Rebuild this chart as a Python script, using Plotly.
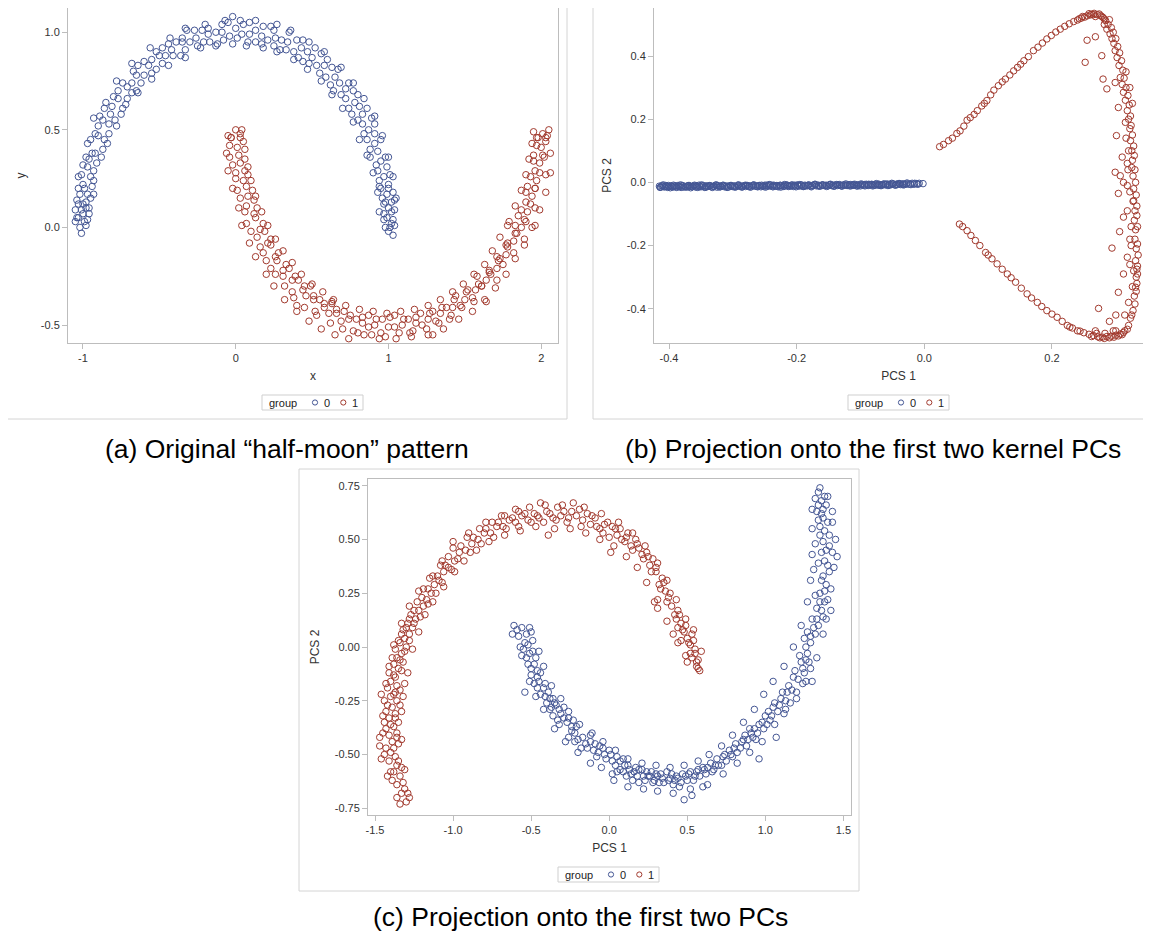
import plotly.graph_objects as go

# The page body adds an 8px margin, so the figure is sized to the window minus it
OFF = 8
W, H = 1151 - OFF, 938 - OFF
BLUE = "#445694"
RED = "#A23A2E"
FRAME = "#BDBDBD"
OUTER = "#D4D4D4"
TXT = "#333333"
FONT = "Liberation Sans, Arial, sans-serif"

# ---------------- data: panel (a) original half-moons ----------------
A_G0 = [(-1.03,0.05),(-0.98,0.01),(-1.01,-0.03),(-1.05,0.09),(-0.96,0.07),(-1.00,0.12),
(-1.02,0.17),(-0.95,0.15),(-0.99,0.20),(-1.01,0.27),(-0.93,0.24),(-0.97,0.31),
(-0.98,0.36),(-0.91,0.33),(-0.94,0.38),(-0.95,0.45),(-0.87,0.40),(-0.90,0.47),
(-0.90,0.52),(-0.83,0.48),(-0.87,0.55),(-0.86,0.61),(-0.79,0.55),(-0.82,0.58),
(-0.80,0.67),(-0.74,0.61),(-0.77,0.66),(-0.74,0.74),(-0.68,0.69),(-0.71,0.72),
(-0.67,0.80),(-0.62,0.74),(-0.65,0.78),(-0.60,0.85),(-0.55,0.79),(-0.57,0.83),
(-0.52,0.90),(-0.48,0.84),(-0.50,0.88),(-0.44,0.94),(-0.41,0.88),(-0.42,0.91),
(-0.35,0.97),(-0.33,0.91),(-0.35,0.95),(-0.27,1.01),(-0.25,0.93),(-0.26,0.97),
(-0.18,1.02),(-0.17,0.95),(-0.18,0.99),(-0.09,1.04),(-0.08,0.96),(-0.09,1.00),
(-0.02,1.08),(0.01,0.97),(0.00,1.02),(0.09,1.05),(0.08,0.95),(0.09,0.99),
(0.18,1.03),(0.17,0.94),(0.17,0.98),(0.27,1.04),(0.25,0.93),(0.26,0.97),
(0.35,1.00),(0.33,0.91),(0.34,0.95),(0.44,0.96),(0.41,0.87),(0.43,0.92),
(0.52,0.92),(0.48,0.84),(0.50,0.87),(0.60,0.86),(0.55,0.79),(0.58,0.83),
(0.67,0.81),(0.62,0.73),(0.65,0.77),(0.74,0.74),(0.69,0.68),(0.72,0.71),
(0.80,0.68),(0.74,0.61),(0.78,0.64),(0.86,0.61),(0.80,0.55),(0.83,0.58),
(0.91,0.53),(0.84,0.48),(0.87,0.50),(0.95,0.45),(0.88,0.40),(0.91,0.43),
(0.98,0.36),(0.92,0.32),(0.95,0.34),(1.01,0.27),(0.94,0.24),(0.97,0.26),
(1.03,0.18),(0.96,0.15),(0.99,0.17),(1.04,0.09),(0.97,0.07),(1.00,0.10),
(1.02,0.02),(0.98,0.00),(1.03,-0.04),
(-1.04,0.05),(-0.97,0.04),(-0.98,0.13),(-1.04,0.14),(-0.94,0.21),(-1.00,0.22),
(-1.00,0.32),(-0.93,0.29),(-0.92,0.38),(-0.88,0.36),(-0.92,0.48),(-0.86,0.45),
(-0.83,0.53),(-0.89,0.57),(-0.81,0.62),(-0.75,0.58),(-0.71,0.66),(-0.77,0.70),
(-0.68,0.74),(-0.64,0.69),(-0.64,0.83),(-0.60,0.78),(-0.52,0.81),(-0.55,0.86),
(-0.48,0.92),(-0.46,0.88),(-0.36,0.88),(-0.39,0.95),(-0.30,0.95),(-0.32,1.01),
(-0.21,0.95),(-0.22,1.01),(-0.13,1.00),(-0.12,0.94),(-0.05,1.05),(-0.04,0.98),
(0.04,0.99),(0.05,1.04),(0.13,1.01),(0.13,0.95),(0.21,0.96),(0.23,1.03),
(0.30,0.96),(0.29,0.91),(0.40,0.96),(0.38,0.90),(0.44,0.85),(0.47,0.90),
(0.56,0.89),(0.53,0.83),(0.59,0.77),(0.63,0.82),(0.68,0.74),(0.64,0.70),
(0.77,0.70),(0.72,0.66),(0.76,0.58),(0.81,0.62),(0.89,0.56),(0.83,0.53),
(0.86,0.45),(0.91,0.48),(0.93,0.39),(0.88,0.36),(0.99,0.31),(0.93,0.29),
(0.94,0.21),(1.00,0.22),(1.04,0.14),(0.98,0.13),(0.97,0.04),(1.03,0.04),
(-1.02,0.00),(-0.99,0.03),(-1.00,0.07),(-0.98,0.10),(-1.03,0.12),(1.01,0.00),
(0.99,0.05),(1.02,0.08),(0.95,0.20),(1.00,0.20),
(-1.05,0.03),(-0.96,0.10),(-1.01,0.09),(-0.97,0.17),(-1.03,0.20),(-0.95,0.26),
(-0.93,0.17),(-1.03,0.26),(-0.96,0.35),(-0.97,0.43),(-0.84,0.43),(-0.93,0.56),
(-0.78,0.52),(-0.85,0.64),(-0.72,0.63),(-0.78,0.75),(-0.65,0.70),(-0.68,0.84),
(-0.55,0.76),(-0.56,0.92),(-0.44,0.83),(-0.43,0.97),(-0.33,0.87),(-0.33,1.02),
(-0.23,0.92),(-0.20,1.04),(-0.13,0.93),(-0.07,1.06),(-0.02,0.94),(0.03,1.06),
(0.07,0.93),(0.13,1.06),(0.18,0.92),(0.25,1.01),(0.27,0.90),(0.36,1.01),
(0.38,0.86),(0.48,0.95),(0.47,0.81),(0.58,0.90),(0.56,0.75),(0.69,0.82),
(0.63,0.68),(0.77,0.74),(0.70,0.61),(0.84,0.66),(0.77,0.54),(0.91,0.57),
(0.81,0.45),(0.96,0.47),(0.86,0.37),(1.00,0.36),(0.90,0.28),(1.03,0.26),
(0.93,0.18),(1.05,0.15),(0.94,0.08),(1.00,-0.02),(1.04,0.01),(0.97,0.12),(1.02,0.13)]

A_G1 = [(0.00,0.50),(-0.03,0.46),(0.03,0.48),(0.01,0.41),(-0.04,0.42),(0.05,0.44),
(0.03,0.33),(-0.02,0.32),(0.06,0.35),(0.05,0.24),(0.00,0.25),(0.08,0.27),
(0.08,0.16),(0.03,0.15),(0.11,0.19),(0.12,0.07),(0.06,0.08),(0.14,0.10),
(0.16,-0.01),(0.10,-0.02),(0.18,0.02),(0.21,-0.08),(0.16,-0.10),(0.23,-0.06),
(0.26,-0.15),(0.20,-0.17),(0.28,-0.13),(0.31,-0.22),(0.26,-0.24),(0.33,-0.19),
(0.37,-0.27),(0.32,-0.30),(0.39,-0.25),(0.44,-0.32),(0.38,-0.36),(0.45,-0.30),
(0.51,-0.37),(0.45,-0.41),(0.51,-0.35),(0.58,-0.41),(0.53,-0.45),(0.58,-0.39),
(0.66,-0.44),(0.62,-0.49),(0.66,-0.42),(0.74,-0.47),(0.70,-0.52),(0.75,-0.45),
(0.83,-0.49),(0.80,-0.54),(0.83,-0.46),(0.91,-0.50),(0.89,-0.55),(0.92,-0.47),
(1.00,-0.51),(0.98,-0.56),(1.01,-0.46),(1.09,-0.50),(1.07,-0.54),(1.10,-0.47),
(1.18,-0.49),(1.16,-0.53),(1.18,-0.46),(1.26,-0.47),(1.25,-0.52),(1.27,-0.44),
(1.34,-0.44),(1.33,-0.49),(1.35,-0.41),(1.42,-0.41),(1.41,-0.45),(1.43,-0.37),
(1.50,-0.37),(1.48,-0.41),(1.51,-0.33),(1.57,-0.32),(1.55,-0.36),(1.59,-0.29),
(1.64,-0.27),(1.61,-0.30),(1.66,-0.23),(1.71,-0.21),(1.67,-0.24),(1.72,-0.17),
(1.77,-0.14),(1.73,-0.16),(1.78,-0.10),(1.82,-0.07),(1.78,-0.08),(1.84,-0.03),
(1.87,0.00),(1.83,0.01),(1.89,0.04),(1.91,0.08),(1.87,0.09),(1.93,0.12),
(1.94,0.16),(1.90,0.18),(1.96,0.20),(1.97,0.24),(1.93,0.26),(1.99,0.28),
(1.99,0.33),(1.95,0.34),(2.02,0.36),(2.00,0.41),(1.97,0.42),(2.03,0.44),
(2.01,0.48),(1.98,0.46),(2.04,0.47),(0.40,-0.40),(0.63,-0.38),(1.29,-0.55),
(1.64,-0.38),(1.78,0.01),(1.96,0.01),
(-0.03,0.46),(0.03,0.46),(0.02,0.37),(-0.04,0.36),(0.00,0.28),(0.06,0.29),
(0.07,0.21),(0.01,0.19),(0.07,0.11),(0.12,0.14),(0.07,0.02),(0.13,0.05),
(0.19,-0.02),(0.14,-0.05),(0.18,-0.13),(0.23,-0.09),(0.27,-0.17),(0.23,-0.21),
(0.31,-0.25),(0.35,-0.21),(0.41,-0.27),(0.37,-0.33),(0.46,-0.35),(0.49,-0.30),
(0.52,-0.43),(0.55,-0.37),(0.63,-0.39),(0.61,-0.44),(0.69,-0.48),(0.71,-0.43),
(0.79,-0.47),(0.77,-0.53),(0.87,-0.51),(0.87,-0.45),(0.96,-0.47),(0.95,-0.54),
(1.04,-0.51),(1.04,-0.45),(1.14,-0.54),(1.13,-0.47),(1.21,-0.44),(1.22,-0.50),
(1.31,-0.48),(1.29,-0.43),(1.38,-0.41),(1.40,-0.47),(1.47,-0.40),(1.44,-0.35),
(1.52,-0.32),(1.56,-0.38),(1.61,-0.30),(1.58,-0.25),(1.71,-0.27),(1.66,-0.22),
(1.71,-0.15),(1.75,-0.19),(1.82,-0.13),(1.77,-0.09),(1.83,-0.03),(1.89,-0.06),
(1.90,0.03),(1.85,0.06),(1.90,0.13),(1.96,0.10),(1.96,0.20),(1.91,0.21),
(2.03,0.27),(1.96,0.29),(1.95,0.37),(2.01,0.37),(2.03,0.46),(1.97,0.46),
(0.04,0.50),(-0.05,0.47),(0.06,0.40),(-0.06,0.38),(0.08,0.31),(-0.05,0.29),
(0.10,0.24),(-0.02,0.20),(0.13,0.16),(0.02,0.10),(0.17,0.08),(0.04,0.01),
(0.21,0.01),(0.09,-0.08),(0.26,-0.06),(0.13,-0.15),(0.31,-0.12),(0.20,-0.24),
(0.37,-0.18),(0.25,-0.30),(0.43,-0.24),(0.32,-0.37),(0.50,-0.29),(0.40,-0.43),
(0.57,-0.33),(0.48,-0.48),(0.64,-0.37),(0.56,-0.52),(0.72,-0.40),(0.65,-0.55),
(0.81,-0.42),(0.74,-0.57),(0.90,-0.43),(0.84,-0.55),(0.99,-0.44),(0.94,-0.57),
(1.08,-0.43),(1.05,-0.57),(1.17,-0.42),(1.15,-0.56),(1.26,-0.40),(1.26,-0.55),
(1.34,-0.37),(1.36,-0.52),(1.42,-0.33),(1.46,-0.47),(1.49,-0.29),(1.55,-0.43),
(1.56,-0.24),(1.63,-0.37),(1.63,-0.19),(1.70,-0.31),(1.68,-0.12),(1.77,-0.24),
(1.73,-0.05),(1.83,-0.16),(1.79,0.03),(1.89,-0.09),(1.83,0.11),(1.94,0.00),
(1.87,0.19),(1.99,0.09),(1.90,0.27),(2.03,0.18),(1.92,0.35),(2.06,0.28),
(1.94,0.43),(2.06,0.38),(1.95,0.49),(2.05,0.50)]

# ---------------- data: panel (b) kernel PCs ----------------
B_G0_X = [-0.415,-0.413,-0.410,-0.408,-0.405,-0.402,-0.400,-0.397,-0.394,-0.392,
-0.389,-0.386,-0.383,-0.381,-0.378,-0.375,-0.372,-0.370,-0.367,-0.364,
-0.361,-0.358,-0.356,-0.353,-0.350,-0.347,-0.344,-0.342,-0.339,-0.336,
-0.333,-0.330,-0.327,-0.325,-0.322,-0.319,-0.316,-0.313,-0.310,-0.307,
-0.304,-0.301,-0.298,-0.295,-0.292,-0.289,-0.286,-0.283,-0.280,-0.277,
-0.274,-0.271,-0.268,-0.265,-0.262,-0.259,-0.256,-0.253,-0.250,-0.247,
-0.244,-0.241,-0.238,-0.235,-0.232,-0.229,-0.226,-0.223,-0.220,-0.217,
-0.214,-0.211,-0.208,-0.205,-0.202,-0.199,-0.196,-0.193,-0.190,-0.187,
-0.184,-0.181,-0.178,-0.175,-0.172,-0.169,-0.166,-0.163,-0.160,-0.157,
-0.154,-0.151,-0.148,-0.145,-0.142,-0.139,-0.136,-0.133,-0.130,-0.127,
-0.124,-0.121,-0.118,-0.115,-0.112,-0.109,-0.106,-0.103,-0.100,-0.097,
-0.094,-0.091,-0.088,-0.085,-0.082,-0.079,-0.076,-0.073,-0.070,-0.067,
-0.064,-0.061,-0.058,-0.055,-0.052,-0.049,-0.046,-0.043,-0.040,-0.037,
-0.034,-0.031,-0.028,-0.025,-0.022,-0.019,-0.016,-0.012,-0.008,-0.002]
B_G0_Y = [-0.012,-0.015,-0.011,-0.014,-0.010,-0.016,-0.013,-0.011,-0.015,-0.012,
-0.014,-0.010,-0.013,-0.016,-0.011,-0.013,-0.015,-0.010,-0.012,-0.014,
-0.011,-0.015,-0.012,-0.009,-0.014,-0.012,-0.016,-0.011,-0.013,-0.010,
-0.014,-0.012,-0.009,-0.015,-0.011,-0.013,-0.010,-0.014,-0.012,-0.015,
-0.010,-0.013,-0.011,-0.014,-0.009,-0.012,-0.015,-0.011,-0.013,-0.010,
-0.012,-0.014,-0.009,-0.011,-0.013,-0.010,-0.014,-0.012,-0.009,-0.013,
-0.011,-0.008,-0.013,-0.010,-0.012,-0.014,-0.009,-0.011,-0.013,-0.008,
-0.010,-0.012,-0.009,-0.013,-0.011,-0.008,-0.012,-0.010,-0.013,-0.009,
-0.011,-0.008,-0.012,-0.010,-0.007,-0.011,-0.009,-0.012,-0.008,-0.010,
-0.009,-0.011,-0.007,-0.010,-0.012,-0.008,-0.010,-0.007,-0.011,-0.009,
-0.008,-0.010,-0.007,-0.011,-0.009,-0.006,-0.010,-0.008,-0.011,-0.007,
-0.009,-0.006,-0.010,-0.008,-0.007,-0.010,-0.006,-0.009,-0.007,-0.010,
-0.006,-0.008,-0.005,-0.009,-0.007,-0.005,-0.008,-0.006,-0.004,-0.007,
-0.005,-0.007,-0.004,-0.006,-0.005,-0.003,-0.006,-0.004,-0.003,-0.004]
B_G0_EXTRA = [(-0.414,-0.016),(-0.409,-0.008),(-0.404,-0.013),(-0.398,-0.017),(-0.393,-0.009),
(-0.388,-0.016),(-0.382,-0.008),(-0.377,-0.015),(-0.371,-0.012),(-0.366,-0.017),
(-0.360,-0.009),(-0.355,-0.016),(-0.349,-0.008),(-0.343,-0.015),(-0.338,-0.011),
(-0.332,-0.016),(-0.326,-0.008),(-0.321,-0.015),(-0.315,-0.009),(-0.309,-0.016),
(-0.303,-0.012),(-0.297,-0.015),(-0.291,-0.008),(-0.285,-0.014),(-0.279,-0.010),
(-0.273,-0.015),(-0.267,-0.008),(-0.261,-0.014),(-0.255,-0.009),(-0.249,-0.015),
(-0.243,-0.007),(-0.237,-0.014),(-0.231,-0.010),(-0.225,-0.015),(-0.219,-0.007),
(-0.213,-0.013),(-0.207,-0.008),(-0.201,-0.014),(-0.195,-0.007),(-0.189,-0.013),
(-0.183,-0.010),(-0.177,-0.014),(-0.171,-0.006),(-0.165,-0.012),(-0.159,-0.008),
(-0.153,-0.013),(-0.147,-0.006),(-0.141,-0.012),(-0.135,-0.008),(-0.129,-0.012),
(-0.123,-0.005),(-0.117,-0.011),(-0.111,-0.007),(-0.105,-0.012),(-0.099,-0.005),
(-0.093,-0.011),(-0.087,-0.006),(-0.081,-0.011),(-0.075,-0.004),(-0.069,-0.010),
(-0.063,-0.005),(-0.057,-0.010),(-0.051,-0.003),(-0.045,-0.009),(-0.039,-0.004),
(-0.033,-0.008),(-0.027,-0.002),(-0.021,-0.007),(-0.015,-0.003),(-0.010,-0.006),
(-0.4115,-0.011),(-0.4065,-0.014),(-0.4010,-0.010),(-0.3955,-0.013),(-0.3905,-0.011),
(-0.3850,-0.013),(-0.3795,-0.010),(-0.3740,-0.014),(-0.3685,-0.010),(-0.3630,-0.013),
(-0.3575,-0.011),(-0.3520,-0.013),(-0.3465,-0.010),(-0.3410,-0.014),(-0.3355,-0.011),
(-0.3300,-0.013),(-0.3245,-0.010),(-0.3190,-0.013),(-0.3135,-0.011),(-0.3080,-0.012),
(-0.3025,-0.010),(-0.2970,-0.013),(-0.2915,-0.011),(-0.2860,-0.012),(-0.2805,-0.009),
(-0.2750,-0.012),(-0.2695,-0.010),(-0.2640,-0.012),(-0.2585,-0.010),(-0.2530,-0.012),
(-0.2475,-0.009),(-0.2420,-0.011),(-0.2365,-0.009),(-0.2310,-0.012),(-0.2255,-0.010),
(-0.2200,-0.011),(-0.2145,-0.009),(-0.2090,-0.011),(-0.2035,-0.009),(-0.1980,-0.010),
(-0.1925,-0.008),(-0.1870,-0.011),(-0.1815,-0.009),(-0.1760,-0.010),(-0.1705,-0.008),
(-0.1650,-0.010),(-0.1595,-0.009),(-0.1540,-0.010),(-0.1485,-0.008),(-0.1430,-0.009),
(-0.1375,-0.007),(-0.1320,-0.009),(-0.1265,-0.008),(-0.1210,-0.009),(-0.1155,-0.007),
(-0.1100,-0.009),(-0.1045,-0.008),(-0.0990,-0.008),(-0.0935,-0.007),(-0.0880,-0.008),
(-0.0825,-0.006),(-0.0770,-0.008),(-0.0715,-0.006),(-0.0660,-0.007),(-0.0605,-0.006),
(-0.0550,-0.007),(-0.0495,-0.005),(-0.0440,-0.006),(-0.0385,-0.005),(-0.0330,-0.005)]

B_G1 = [(0.024,0.113),(0.030,0.120),(0.038,0.132),(0.044,0.140),(0.051,0.155),(0.056,0.163),
(0.062,0.178),(0.067,0.197),(0.072,0.205),(0.078,0.215),(0.083,0.227),(0.090,0.242),
(0.094,0.250),(0.098,0.259),(0.104,0.277),(0.109,0.292),(0.116,0.306),(0.122,0.318),
(0.127,0.327),(0.134,0.340),(0.140,0.353),(0.146,0.364),(0.151,0.374),(0.156,0.385),
(0.163,0.398),(0.171,0.417),(0.178,0.428),(0.185,0.441),(0.192,0.454),(0.199,0.465),
(0.206,0.476),(0.213,0.485),(0.220,0.494),(0.227,0.502),(0.234,0.509),(0.240,0.514),
(0.246,0.520),(0.251,0.523),(0.255,0.527),(0.260,0.530),(0.265,0.531),(0.271,0.531),
(0.276,0.528),(0.280,0.522),(0.284,0.512),(0.268,0.525),(0.262,0.532),
(0.288,0.500),(0.291,0.470),(0.294,0.455),(0.297,0.440),(0.299,0.417),(0.302,0.395),
(0.305,0.370),(0.307,0.332),(0.310,0.310),(0.312,0.285),(0.315,0.260),(0.318,0.227),
(0.320,0.200),(0.322,0.170),(0.323,0.132),(0.325,0.100),(0.326,0.070),(0.325,0.047),
(0.327,0.020),(0.328,-0.020),(0.328,-0.058),(0.330,-0.090),(0.329,-0.120),(0.331,-0.150),
(0.330,-0.180),(0.332,-0.210),(0.331,-0.248),(0.333,-0.275),(0.332,-0.300),(0.331,-0.332),
(0.329,-0.360),(0.327,-0.406),(0.323,-0.430),(0.320,-0.453),(0.314,-0.470),(0.307,-0.480),
(0.252,0.380),(0.255,0.450),(0.268,0.461),(0.278,0.401),(0.280,0.327),(0.286,0.296),
(0.299,0.316),(0.304,0.237),(0.301,0.148),(0.299,0.032),(0.307,0.021),(0.304,-0.035),
(0.318,-0.010),(0.310,0.080),(0.315,0.190),(0.312,-0.110),(0.294,-0.208),(0.306,-0.156),
(0.312,-0.290),(0.318,-0.237),(0.304,-0.348),(0.273,-0.399),(0.320,-0.380),(0.316,0.350),
(0.322,-0.260),(0.318,0.060),(0.290,-0.440),(0.300,-0.420),
(0.055,-0.132),(0.060,-0.140),(0.067,-0.153),(0.073,-0.168),(0.080,-0.184),(0.087,-0.200),
(0.096,-0.222),(0.100,-0.230),(0.106,-0.242),(0.114,-0.258),(0.122,-0.275),(0.130,-0.290),
(0.136,-0.302),(0.143,-0.316),(0.152,-0.335),(0.161,-0.353),(0.168,-0.366),(0.177,-0.380),
(0.184,-0.393),(0.192,-0.406),(0.200,-0.417),(0.208,-0.427),(0.216,-0.440),(0.224,-0.453),
(0.232,-0.461),(0.244,-0.471),(0.250,-0.476),(0.258,-0.481),(0.265,-0.485),(0.272,-0.489),
(0.279,-0.490),(0.286,-0.488),(0.293,-0.487),(0.300,-0.484),(0.283,-0.478),(0.270,-0.478),
(0.296,-0.470),
(0.290,0.515),(0.293,0.490),(0.296,0.475),(0.300,0.455),(0.303,0.430),(0.306,0.410),
(0.309,0.385),(0.311,0.355),(0.313,0.330),(0.316,0.300),(0.319,0.275),(0.321,0.245),
(0.323,0.210),(0.324,0.180),(0.326,0.150),(0.328,0.115),(0.329,0.085),(0.330,0.040),
(0.331,0.000),(0.332,-0.040),(0.333,-0.075),(0.333,-0.105),(0.334,-0.140),(0.334,-0.195),
(0.335,-0.230),(0.334,-0.265),(0.334,-0.290),(0.333,-0.320),(0.332,-0.345),(0.330,-0.385),
(0.325,-0.420),(0.318,-0.465),(0.312,-0.475),(0.320,0.100),(0.316,0.140),(0.322,-0.030),
(0.318,-0.090),(0.324,-0.200),(0.326,-0.330),(0.314,-0.420),(0.322,-0.180),(0.326,0.250),
(0.322,0.300),(0.319,0.040),(0.312,0.000),(0.327,-0.060),(0.328,-0.280),(0.324,-0.140),
(0.258,0.534),(0.266,0.535),(0.274,0.533),(0.278,0.525),(0.282,0.517),(0.248,0.525),
(0.243,0.518),(0.282,0.500),(0.286,0.485),
(0.262,-0.488),(0.275,-0.492),(0.282,-0.494),(0.290,-0.492),(0.297,-0.490),(0.304,-0.486),
(0.310,-0.482),(0.240,-0.470),(0.228,-0.458),(0.268,-0.470),(0.300,-0.470)]

# ---------------- data: panel (c) linear PCs ----------------
C_G1 = [(-1.34,-0.73),(-1.28,-0.70),(-1.33,-0.68),(-1.31,-0.66),(-1.36,-0.64),(-1.39,-0.62),
(-1.34,-0.60),(-1.38,-0.58),(-1.31,-0.57),(-1.36,-0.55),(-1.41,-0.53),(-1.46,-0.52),
(-1.37,-0.51),(-1.40,-0.49),(-1.43,-0.47),(-1.35,-0.45),(-1.39,-0.44),(-1.47,-0.42),
(-1.41,-0.41),(-1.36,-0.40),(-1.43,-0.38),(-1.38,-0.37),(-1.35,-0.35),(-1.41,-0.33),
(-1.37,-0.31),(-1.43,-0.30),(-1.39,-0.28),(-1.34,-0.27),(-1.44,-0.25),(-1.40,-0.23),
(-1.37,-0.21),(-1.42,-0.19),(-1.36,-0.18),(-1.40,-0.16),(-1.31,-0.17),(-1.37,-0.14),
(-1.41,-0.12),(-1.35,-0.10),(-1.38,-0.08),(-1.32,-0.07),(-1.36,-0.05),(-1.33,-0.03),
(-1.37,-0.01),(-1.30,0.00),(-1.34,0.02),(-1.31,0.04),(-1.28,0.06),(-1.32,0.08),
(-1.26,0.09),(-1.29,0.11),(-1.24,0.13),(-1.27,0.15),(-1.22,0.17),(-1.19,0.19),
(-1.23,0.21),(-1.17,0.22),(-1.14,0.25),(-1.19,0.27),(-1.12,0.29),(-1.09,0.31),
(-1.13,0.33),(-1.06,0.35),(-1.03,0.37),(-1.07,0.40),(-0.99,0.40),(-0.96,0.44),
(-1.00,0.46),(-0.92,0.45),(-0.88,0.48),(-0.91,0.51),(-0.84,0.50),(-0.80,0.53),
(-0.83,0.55),(-0.76,0.53),(-0.72,0.56),(-0.75,0.58),(-0.68,0.56),(-0.64,0.59),
(-0.67,0.61),(-0.60,0.58),(-0.56,0.61),(-0.58,0.63),(-0.52,0.59),(-0.48,0.62),
(-0.44,0.67),(-0.45,0.60),(-0.40,0.63),(-0.39,0.52),(-0.36,0.60),(-0.33,0.65),
(-0.31,0.61),(-0.27,0.58),(-0.24,0.63),(-0.21,0.61),(-0.23,0.67),(-0.17,0.59),
(-0.14,0.62),(-0.12,0.57),(-0.09,0.60),(-0.06,0.55),(-0.04,0.53),(-0.01,0.58),
(0.02,0.56),(0.01,0.44),(0.05,0.52),(0.07,0.55),(0.10,0.49),(0.12,0.53),
(0.14,0.47),(0.17,0.50),(0.19,0.46),(0.21,0.43),(0.24,0.44),(0.26,0.38),
(0.28,0.41),(0.30,0.35),(0.32,0.29),(0.34,0.32),(0.31,0.22),(0.36,0.26),
(0.38,0.23),(0.40,0.19),(0.42,0.15),(0.44,0.17),(0.41,0.06),(0.46,0.11),
(0.48,0.07),(0.50,0.04),(0.52,0.01),(0.54,0.03),(0.50,-0.07),(0.55,-0.03),
(0.57,-0.06),(0.56,-0.09),(0.58,-0.11),(0.53,-0.05),
(-1.30,-0.72),(-1.36,-0.70),(-1.32,-0.63),(-1.40,-0.58),(-1.35,-0.53),(-1.44,-0.50),
(-1.38,-0.47),(-1.33,-0.43),(-1.45,-0.40),(-1.40,-0.36),(-1.37,-0.33),(-1.45,-0.32),
(-1.42,-0.27),(-1.36,-0.25),(-1.38,-0.22),(-1.34,-0.20),(-1.43,-0.17),(-1.38,-0.13),
(-1.33,-0.11),(-1.39,-0.05),(-1.34,-0.06),(-1.31,-0.02),(-1.35,0.03),(-1.33,0.06),
(-1.28,0.03),(-1.30,0.09),(-1.25,0.11),(-1.28,0.13),(-1.21,0.14),(-1.25,0.17),
(-1.20,0.23),(-1.16,0.20),(-1.16,0.27),(-1.11,0.25),(-1.10,0.33),(-1.07,0.30),
(-1.05,0.38),(-1.01,0.36),(-1.03,0.42),(-0.97,0.41),(-0.95,0.47),(-0.89,0.44),
(-0.87,0.51),(-0.82,0.48),(-0.79,0.55),(-0.74,0.51),(-0.71,0.58),(-0.66,0.55),
(-0.62,0.60),(-0.58,0.56),(-0.54,0.62),(-0.50,0.58),(-0.46,0.61),(-0.42,0.58),
(-0.38,0.62),(-0.34,0.59),(-0.29,0.63),(-0.26,0.60),(-0.19,0.64),(-0.18,0.56),
(-0.11,0.61),(-0.08,0.56),(-0.03,0.57),(0.00,0.51),(0.04,0.55),(0.08,0.50),
(0.11,0.51),(0.15,0.45),(0.18,0.48),(0.22,0.41),(0.25,0.42),(0.27,0.35),
(0.30,0.37),(0.33,0.27),(0.35,0.30),(0.37,0.21),(0.39,0.25),(0.43,0.13),
(0.45,0.15),(0.47,0.08),(0.49,0.10),(0.51,0.02),(0.53,0.06),(0.55,-0.01),
(0.52,-0.03),(0.56,-0.07),(0.57,-0.10),(0.46,0.03),(0.44,0.09),(0.29,0.21),
(-1.29,-0.68),(-1.42,-0.60),(-1.33,-0.56),(-1.47,-0.46),(-1.36,-0.42),(-1.44,-0.35),
(-1.33,-0.30),(-1.46,-0.22),(-1.32,-0.23),(-1.41,-0.09),(-1.29,-0.12),(-1.38,0.01),
(-1.26,-0.01),(-1.33,0.11),(-1.22,0.07),(-1.28,0.19),(-1.18,0.15),(-1.22,0.26),
(-1.13,0.21),(-1.15,0.32),(-1.06,0.28),(-1.08,0.38),(-0.99,0.35),(-1.00,0.49),
(-0.93,0.40),(-0.90,0.53),(-0.85,0.45),(-0.79,0.58),(-0.77,0.49),(-0.69,0.61),
(-0.67,0.52),(-0.60,0.64),(-0.57,0.54),(-0.51,0.65),(-0.47,0.56),(-0.41,0.66),
(-0.35,0.55),(-0.30,0.66),(-0.25,0.55),(-0.16,0.65),(-0.15,0.53),(-0.05,0.62),
(-0.06,0.50),(0.06,0.58),(0.03,0.47),(0.15,0.53),(0.11,0.42),(0.23,0.47),
(0.18,0.37),(0.31,0.39),(0.24,0.30),(0.37,0.31),(0.31,0.18),(0.43,0.22),
(0.37,0.12),(0.49,0.13),(0.44,0.02),(0.54,0.08),(0.49,-0.04),(0.59,-0.02)]

C_G0 = [(-0.61,0.10),(-0.56,0.09),(-0.50,0.07),(-0.58,0.05),(-0.54,0.02),(-0.49,0.03),
(-0.55,-0.01),(-0.51,-0.03),(-0.47,-0.05),(-0.52,-0.08),(-0.46,-0.11),(-0.50,-0.13),
(-0.45,-0.16),(-0.48,-0.17),(-0.54,-0.21),(-0.42,-0.19),(-0.44,-0.22),(-0.39,-0.21),
(-0.40,-0.26),(-0.36,-0.24),(-0.38,-0.29),(-0.34,-0.27),(-0.31,-0.31),(-0.36,-0.32),
(-0.29,-0.28),(-0.27,-0.35),(-0.32,-0.36),(-0.24,-0.37),(-0.26,-0.42),(-0.22,-0.40),
(-0.20,-0.43),(-0.18,-0.47),(-0.23,-0.34),(-0.15,-0.45),(-0.12,-0.41),(-0.10,-0.48),
(-0.08,-0.51),(-0.06,-0.46),(-0.03,-0.50),(0.00,-0.48),(0.02,-0.53),(0.02,-0.59),
(0.05,-0.51),(0.07,-0.53),(0.07,-0.57),(0.10,-0.55),(0.11,-0.60),(0.13,-0.57),
(0.15,-0.62),(0.17,-0.56),(0.19,-0.57),(0.19,-0.63),(0.22,-0.60),(0.24,-0.58),
(0.26,-0.60),(0.28,-0.63),(0.30,-0.59),(0.32,-0.63),(0.34,-0.61),(0.37,-0.58),
(0.39,-0.61),(0.41,-0.64),(0.43,-0.60),(0.45,-0.65),(0.47,-0.59),(0.48,-0.71),
(0.50,-0.62),(0.52,-0.66),(0.52,-0.58),(0.55,-0.60),(0.57,-0.57),(0.60,-0.56),
(0.60,-0.65),(0.62,-0.59),(0.65,-0.54),(0.67,-0.57),(0.69,-0.52),(0.72,-0.55),
(0.74,-0.50),(0.77,-0.48),(0.79,-0.51),(0.81,-0.45),(0.84,-0.47),(0.86,-0.43),
(0.88,-0.46),(0.90,-0.38),(0.92,-0.42),(0.94,-0.43),(0.96,-0.52),(0.96,-0.36),
(0.99,-0.38),(1.00,-0.32),(1.03,-0.34),(1.05,-0.28),(1.07,-0.42),(1.08,-0.30),
(1.10,-0.24),(1.12,-0.31),(1.14,-0.21),(1.16,-0.26),(1.18,-0.14),(1.20,-0.21),
(1.22,-0.04),(1.24,-0.10),(1.24,-0.17),(1.26,0.00),(1.28,-0.07),(1.27,0.07),
(1.30,-0.16),(1.30,0.13),(1.32,0.06),(1.33,0.18),(1.34,0.10),(1.35,0.25),
(1.37,0.14),(1.38,0.21),(1.40,0.22),(1.42,0.17),(1.39,0.29),(1.41,0.35),
(1.38,0.40),(1.36,0.44),(1.46,0.42),(1.41,0.47),(1.32,0.48),(1.35,0.52),
(1.35,0.56),(1.40,0.58),(1.43,0.58),(1.37,0.60),(1.33,0.63),(1.39,0.66),
(1.36,0.68),(1.32,0.69),(1.34,0.72),(1.37,0.64),(1.31,0.36),(1.36,0.31),
(1.29,0.02),(1.25,0.04),
(-0.59,0.08),(-0.53,0.06),(-0.57,0.00),(-0.52,0.01),(-0.49,-0.02),(-0.53,-0.05),
(-0.48,-0.08),(-0.50,-0.10),(-0.46,-0.14),(-0.44,-0.12),(-0.41,-0.17),(-0.46,-0.19),
(-0.41,-0.23),(-0.38,-0.24),(-0.35,-0.26),(-0.37,-0.28),(-0.32,-0.29),(-0.29,-0.33),
(-0.33,-0.34),(-0.26,-0.33),(-0.24,-0.39),(-0.21,-0.37),(-0.22,-0.44),(-0.17,-0.42),
(-0.14,-0.47),(-0.12,-0.44),(-0.09,-0.45),(-0.07,-0.49),(-0.04,-0.47),(-0.02,-0.52),
(0.01,-0.50),(0.04,-0.55),(0.05,-0.58),(0.09,-0.52),(0.09,-0.58),(0.12,-0.55),
(0.14,-0.59),(0.16,-0.58),(0.18,-0.60),(0.21,-0.57),(0.23,-0.62),(0.25,-0.60),
(0.27,-0.58),(0.29,-0.62),(0.31,-0.60),(0.33,-0.59),(0.35,-0.63),(0.38,-0.62),
(0.40,-0.59),(0.42,-0.62),(0.44,-0.61),(0.46,-0.63),(0.49,-0.60),(0.51,-0.59),
(0.54,-0.62),(0.56,-0.58),(0.58,-0.60),(0.61,-0.57),(0.63,-0.56),(0.66,-0.58),
(0.68,-0.55),(0.70,-0.55),(0.73,-0.51),(0.75,-0.53),(0.78,-0.50),(0.80,-0.47),
(0.82,-0.49),(0.85,-0.44),(0.87,-0.41),(0.89,-0.43),(0.91,-0.40),(0.93,-0.38),
(0.95,-0.40),(0.98,-0.35),(1.01,-0.36),(1.02,-0.30),(1.04,-0.32),(1.06,-0.26),
(1.09,-0.27),(1.11,-0.21),(1.13,-0.25),(1.15,-0.18),(1.17,-0.20),(1.19,-0.11),
(1.21,-0.15),(1.23,-0.07),(1.25,-0.12),(1.27,-0.03),(1.29,0.05),(1.31,0.09),
(1.33,0.13),(1.36,0.17),(1.35,0.21),(1.38,0.26),(1.37,0.33),(1.40,0.38),
(1.39,0.45),(1.37,0.49),(1.38,0.54),(1.34,0.59),(1.36,0.62),(1.38,0.70),
(1.34,0.66),(1.41,0.52),(1.43,0.44),(1.34,0.39),(1.39,0.13),(1.32,0.24),
(1.29,-0.10),(1.26,-0.06),
(-0.62,0.06),(-0.51,0.09),(-0.56,-0.04),(-0.45,-0.02),(-0.51,-0.16),(-0.42,-0.09),
(-0.47,-0.23),(-0.37,-0.18),(-0.42,-0.29),(-0.31,-0.24),(-0.35,-0.38),(-0.26,-0.30),
(-0.28,-0.44),(-0.19,-0.36),(-0.20,-0.49),(-0.11,-0.40),(-0.12,-0.54),(-0.04,-0.44),
(-0.05,-0.56),(0.04,-0.48),(0.03,-0.62),(0.12,-0.52),(0.12,-0.65),(0.21,-0.54),
(0.22,-0.66),(0.30,-0.55),(0.31,-0.67),(0.39,-0.56),(0.41,-0.68),(0.48,-0.55),
(0.53,-0.69),(0.57,-0.53),(0.63,-0.64),(0.64,-0.50),(0.73,-0.59),(0.72,-0.46),
(0.82,-0.54),(0.79,-0.41),(0.90,-0.49),(0.86,-0.35),(0.98,-0.44),(0.93,-0.29),
(1.06,-0.36),(0.99,-0.22),(1.13,-0.29),(1.05,-0.16),(1.20,-0.24),(1.12,-0.09),
(1.26,-0.16),(1.18,0.00),(1.33,-0.05),(1.23,0.10),(1.37,0.06),(1.27,0.21),
(1.42,0.27),(1.29,0.31),(1.44,0.37),(1.30,0.43),(1.45,0.50),(1.30,0.55),
(1.43,0.63),(1.30,0.64),(1.40,0.70),(1.35,0.74)]

# ticks
A_XTICKS = [-1, 0, 1, 2]
A_XTEXT = ["-1", "0", "1", "2"]
A_YTICKS = [-0.5, 0.0, 0.5, 1.0]
A_YTEXT = ["-0.5", "0.0", "0.5", "1.0"]
B_XTICKS = [-0.4, -0.2, 0.0, 0.2]
B_XTEXT = ["-0.4", "-0.2", "0.0", "0.2"]
B_YTICKS = [-0.4, -0.2, 0.0, 0.2, 0.4]
B_YTEXT = ["-0.4", "-0.2", "0.0", "0.2", "0.4"]
C_XTICKS = [-1.5, -1.0, -0.5, 0.0, 0.5, 1.0, 1.5]
C_XTEXT = ["-1.5", "-1.0", "-0.5", "0.0", "0.5", "1.0", "1.5"]
C_YTICKS = [-0.75, -0.5, -0.25, 0.0, 0.25, 0.5, 0.75]
C_YTEXT = ["-0.75", "-0.50", "-0.25", "0.00", "0.25", "0.50", "0.75"]

CAPTIONS = ["(a) Original \u201chalf-moon\u201d pattern",
            "(b) Projection onto the first two kernel PCs",
            "(c) Projection onto the first two PCs"]
GROUP_TITLE = "group"
GROUPS = ["0", "1"]


def px_x(p):
    return (p - OFF) / W


def px_y(p):
    return 1 - (p - OFF) / H


fig = go.Figure()


def add_pts(xs, ys, color, name, xa, ya):
    fig.add_trace(go.Scatter(
        x=xs, y=ys, mode="markers", name=name,
        marker=dict(symbol="circle-open", size=6.5, color=color, line=dict(width=1)),
        xaxis=xa, yaxis=ya, showlegend=False, hoverinfo="skip"))


def split(pts):
    return [p[0] for p in pts], [p[1] for p in pts]


add_pts(*split(A_G0), BLUE, GROUPS[0], "x", "y")
add_pts(*split(A_G1), RED, GROUPS[1], "x", "y")
bx = B_G0_X + [p[0] for p in B_G0_EXTRA]
by = B_G0_Y + [p[1] for p in B_G0_EXTRA]
add_pts(bx, by, BLUE, GROUPS[0], "x2", "y2")
add_pts(*split(B_G1), RED, GROUPS[1], "x2", "y2")
add_pts(*split(C_G0), BLUE, GROUPS[0], "x3", "y3")
add_pts(*split(C_G1), RED, GROUPS[1], "x3", "y3")


def ax(domain, rng, tv, tt, title, standoff, anchor):
    return dict(domain=domain, range=rng, tickvals=tv, ticktext=tt, anchor=anchor,
                showgrid=False, zeroline=False, showline=True, mirror=True,
                linecolor=FRAME, linewidth=1, ticks="outside", ticklen=5,
                tickcolor=FRAME, tickwidth=1,
                tickfont=dict(family=FONT, size=11, color=TXT),
                title=dict(text=title, font=dict(family=FONT, size=12, color=TXT),
                           standoff=standoff),
                automargin=False)


layout = dict(
    width=W, height=H, margin=dict(l=0, r=0, t=0, b=0),
    paper_bgcolor="white", plot_bgcolor="white",
    xaxis=ax([px_x(68), px_x(558)], [-1.098, 2.11], A_XTICKS, A_XTEXT, "x", 8, "y"),
    yaxis=ax([px_y(343), px_y(8)], [-0.592, 1.124], A_YTICKS, A_YTEXT, "y", 12, "x"),
    xaxis2=ax([px_x(654), px_x(1143)], [-0.4235, 0.3426], B_XTICKS, B_XTEXT, "PCS 1", 8, "y2"),
    yaxis2=ax([px_y(343), px_y(8)], [-0.5085, 0.552], B_YTICKS, B_YTEXT, "PCS 2", 12, "x2"),
    xaxis3=ax([px_x(368), px_x(851)], [-1.545, 1.549], C_XTICKS, C_XTEXT, "PCS 1", 8, "y3"),
    yaxis3=ax([px_y(815), px_y(479)], [-0.781, 0.781], C_YTICKS, C_YTEXT, "PCS 2", 12, "x3"),
)

shapes = []
anns = []
# outer panel borders
for (x0, y0, x1, y1) in [(7, -2, 567, 419), (593, -2, 1160, 419), (299, 469, 859, 891)]:
    shapes.append(dict(type="rect", xref="paper", yref="paper",
                       x0=px_x(x0), x1=px_x(x1), y0=px_y(y1), y1=px_y(y0),
                       line=dict(color=OUTER, width=1), fillcolor="rgba(0,0,0,0)", layer="below"))


# legends (box, title, symbols, labels) drawn at the bottom of each panel
def legend(lx, ly):
    shapes.append(dict(type="rect", xref="paper", yref="paper",
                       x0=px_x(lx), x1=px_x(lx + 101), y0=px_y(ly + 15), y1=px_y(ly),
                       line=dict(color="#CFCFCF", width=1), fillcolor="white"))
    cy = ly + 7.5
    anns.append(dict(text=GROUP_TITLE, x=px_x(lx + 4.5), y=px_y(cy), xref="paper", yref="paper",
                     xanchor="left", yanchor="middle", showarrow=False,
                     font=dict(family=FONT, size=11, color="#222222")))
    for k, (col, lab) in enumerate(zip([BLUE, RED], GROUPS)):
        sx = lx + 53 + 28.3 * k
        shapes.append(dict(type="circle", xref="paper", yref="paper",
                           x0=px_x(sx - 2.6), x1=px_x(sx + 2.6), y0=px_y(cy + 2.6), y1=px_y(cy - 2.6),
                           line=dict(color=col, width=1), fillcolor="rgba(0,0,0,0)"))
        anns.append(dict(text=lab, x=px_x(sx + 11.7), y=px_y(cy), xref="paper", yref="paper",
                         xanchor="center", yanchor="middle", showarrow=False,
                         font=dict(family=FONT, size=11, color="#222222")))


legend(262, 395)
legend(848, 395)
legend(558, 867)

for text, cx, cy in zip(CAPTIONS, [287, 872.5, 580], [449, 449, 917]):
    anns.append(dict(text=text, x=px_x(cx), y=px_y(cy), xref="paper", yref="paper",
                     xanchor="center", yanchor="middle", showarrow=False,
                     font=dict(family=FONT, size=26.5, color="black")))

layout["shapes"] = shapes
layout["annotations"] = anns

fig.update_layout(**layout)
fig.write_html("out.html")
